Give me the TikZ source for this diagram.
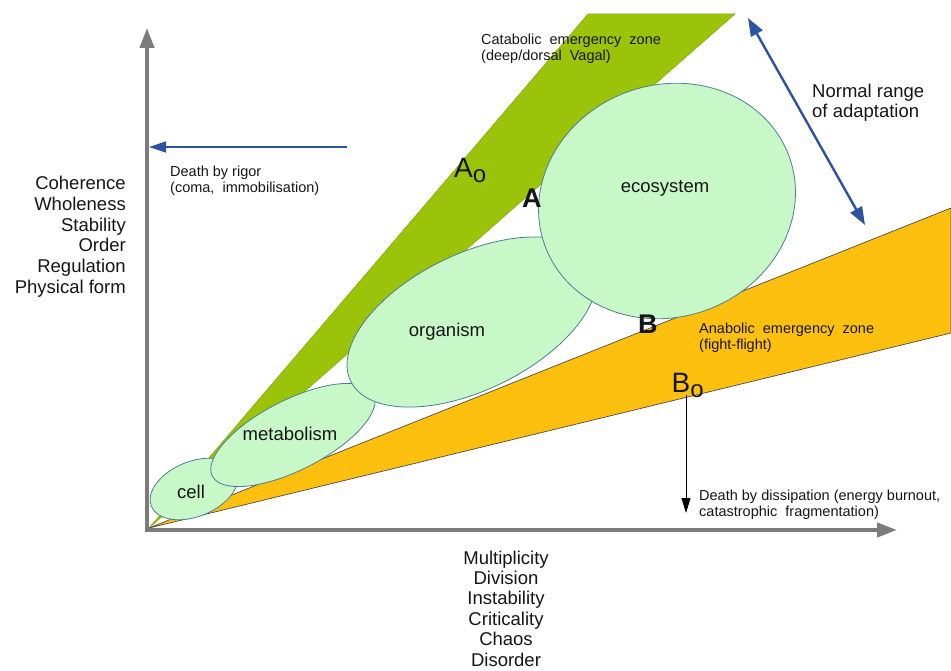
\documentclass[tikz,border=0pt]{standalone}
\usepackage{fontspec}
\setmainfont{Liberation Sans}
\usetikzlibrary{shapes.geometric,arrows.meta}

\definecolor{bandgreen}{HTML}{9BC30A}
\definecolor{bandorange}{HTML}{FEC00F}
\definecolor{blobfill}{HTML}{C8F8C8}
\definecolor{blobline}{HTML}{4A7F92}
\definecolor{arrowblue}{HTML}{2C52A0}
\definecolor{axisgray}{HTML}{7C7C7C}
\definecolor{ink}{HTML}{161616}

\begin{document}
\begin{tikzpicture}[x=1pt,y=-1pt,
  blob/.style={ellipse,draw=blobline,line width=0.8pt,fill=blobfill,inner sep=0pt},
  bigtxt/.style={font=\fontsize{18.5}{20.7}\selectfont,text=ink,inner sep=0pt},
  smalltxt/.style={font=\fontsize{14.5}{16}\selectfont,text=ink,inner sep=0pt,align=left},
  pointlbl/.style={font=\fontsize{28}{28}\selectfont,text=ink,inner sep=0pt},
  boldlbl/.style={font=\fontsize{27}{27}\selectfont\bfseries,text=ink,inner sep=0pt},
  axisline/.style={draw=axisgray,line width=4pt,line join=miter,
    {Triangle[length=20pt,width=14pt]}-{Triangle[length=20pt,width=14pt]}},
  rangearrow/.style={draw=arrowblue,line width=2.4pt,
    {Triangle[length=18pt,width=13pt]}-{Triangle[length=18pt,width=13pt]}},
  rigorarrow/.style={draw=arrowblue,line width=1.3pt,-{Triangle[length=17pt,width=11pt]}},
  dissarrow/.style={draw=black,line width=1pt,-{Triangle[length=15pt,width=9pt]}}
]
\useasboundingbox (0,0) rectangle (951,671);
\fill[white] (0,0) rectangle (951,671);

% corners of the two emergency zones
\coordinate (O) at (149,528);
\coordinate (gTopL) at (588,14);
\coordinate (gTopR) at (735,14);
\coordinate (oUp) at (951,208);
\coordinate (oLow) at (951,333);

% catabolic zone (green) and anabolic zone (orange)
\filldraw[fill=bandgreen,draw=bandgreen!85!black,line width=0.5pt] (O) -- (gTopL) -- (gTopR) -- cycle;
\filldraw[fill=bandorange,draw=black!70,line width=0.7pt] (O) -- (oUp) -- (oLow) -- cycle;

% nested levels of organisation
\node[blob,minimum width=92pt,minimum height=55pt,rotate=22] (cell) at (194,489) {};
\node[blob,minimum width=181pt,minimum height=70pt,rotate=27] (metab) at (293,435) {};
\node[blob,minimum width=270pt,minimum height=136pt,rotate=26] (organism) at (472,322) {};
\node[blob,minimum width=260pt,minimum height=232pt,rotate=20] (ecosys) at (667,201) {};

\node[bigtxt,anchor=base] (celltxt) at (191,498) {cell};
\node[bigtxt,anchor=base] (metabtxt) at (290,440) {metabolism};
\node[bigtxt,anchor=base] (orgtxt) at (447,336) {organism};
\node[bigtxt,anchor=base] (ecotxt) at (665,193) {ecosystem};

% axes
\coordinate (yTip) at (147,28);
\coordinate (corner) at (147,530);
\coordinate (xTip) at (897,530);
\draw[axisline] (yTip) -- (corner) -- (xTip);

% axis captions
\node[bigtxt,anchor=north east,align=right] (ycap) at (126,176)
  {Coherence\\Wholeness\\Stability\\Order\\Regulation\\Physical form};
\node[bigtxt,anchor=north,align=center,font=\fontsize{18.5}{20.4}\selectfont] (xcap) at (506,550.5)
  {Multiplicity\\Division\\Instability\\Criticality\\Chaos\\Disorder};

% death by rigor
\coordinate (rigorStart) at (347,147);
\coordinate (rigorEnd) at (149,147);
\draw[rigorarrow] (rigorStart) -- (rigorEnd);
\node[smalltxt,anchor=north west] (rigortxt) at (170,165.5)
  {Death by rigor\\(coma,\ \ immobilisation)};

% catabolic zone caption
\node[smalltxt,anchor=north west] (catatxt) at (481,33.5)
  {Catabolic\ \ emergency\ \ zone\\(deep/dorsal\ \ Vagal)};

% normal range of adaptation
\coordinate (rangeTop) at (748,18);
\coordinate (rangeBot) at (865,225);
\draw[rangearrow] (rangeTop) -- (rangeBot);
\node[bigtxt,anchor=north west,align=left] (rangetxt) at (812,83.5)
  {Normal range\\of adaptation};

% anabolic zone caption
\node[smalltxt,anchor=north west] (anatxt) at (699,322.5)
  {Anabolic\ \ emergency\ \ zone\\(fight-flight)};

% boundary points
\node[pointlbl,anchor=base west] (Ao) at (454,178) {A\raisebox{-5pt}{\fontsize{24}{24}\selectfont o}};
\node[boldlbl,anchor=base west] (A) at (522,208) {A};
\node[boldlbl,anchor=base west] (B) at (638,333) {B};
\node[pointlbl,anchor=base west] (Bo) at (671.5,392) {B\raisebox{-5pt}{\fontsize{24}{24}\selectfont o}};

% death by dissipation
\coordinate (dissStart) at (686,395);
\coordinate (dissEnd) at (686,513);
\draw[dissarrow] (dissStart) -- (dissEnd);
\node[smalltxt,anchor=north west] (disstxt) at (699,489.5)
  {Death by dissipation (energy burnout,\\catastrophic\ \ fragmentation)};
\end{tikzpicture}
\end{document}
